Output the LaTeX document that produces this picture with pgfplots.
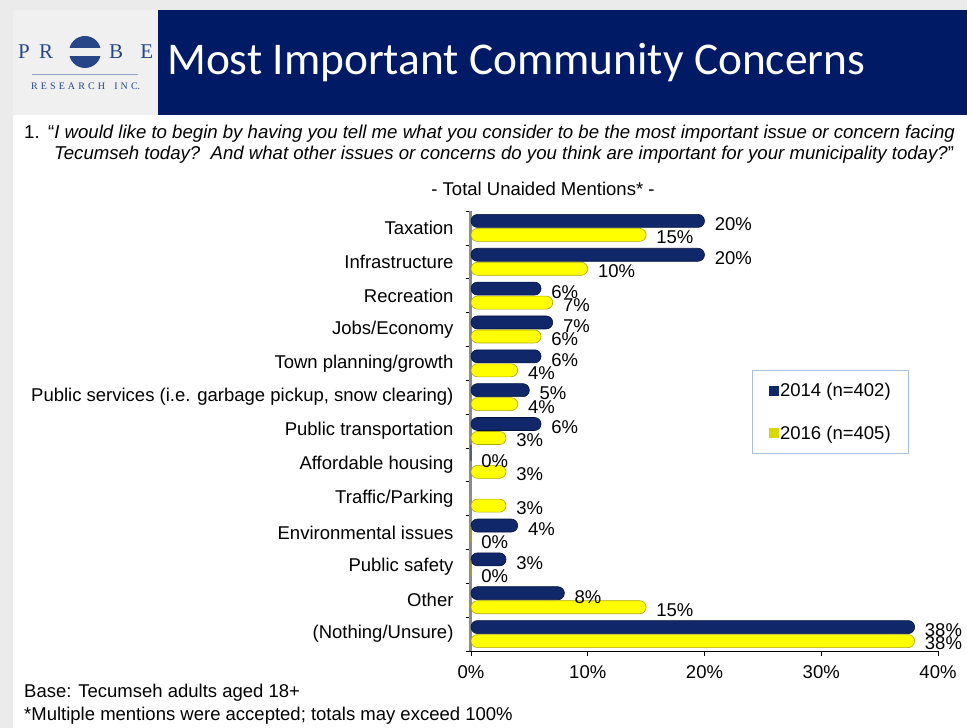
\documentclass[border=0pt]{standalone}
\usepackage{fontspec}
\setmainfont{Liberation Sans}
\newfontfamily\titlefont{Carlito}
\newfontfamily\logofont{Liberation Serif}
\usepackage{pgfplots}
\pgfplotsset{compat=1.18}
\definecolor{navy}{RGB}{16,40,105}
\definecolor{navyD}{RGB}{5,18,60}
\definecolor{yel}{RGB}{255,255,0}
\definecolor{yelD}{RGB}{175,170,0}
\definecolor{banner}{RGB}{0,26,102}
\definecolor{logoblue}{RGB}{40,70,135}
\definecolor{legbox}{RGB}{166,191,218}
\newcommand\F{\fontsize{18.5}{22}\selectfont}
\newcommand\Q{\fontsize{18.6}{22}\selectfont}

\begin{document}
\begin{tikzpicture}
\path[use as bounding box] (0,0) rectangle (967pt,728pt);
\fill[black!8] (0,0) rectangle (967pt,728pt);
\fill[white] (13pt,0) rectangle (967pt,718pt);
\fill[black!6] (13pt,613pt) rectangle (158pt,718pt);
\fill[banner] (158pt,613pt) rectangle (967pt,718pt);
% logo
\node[anchor=west, inner sep=0, text=logoblue] at (18pt,676pt) {\logofont\fontsize{21}{22}\selectfont\makebox[35pt][s]{P R}};
\node[anchor=west, inner sep=0, text=logoblue] at (109pt,676pt) {\logofont\fontsize{21}{22}\selectfont\makebox[44pt][s]{B E}};
\fill[logoblue] (85pt,676pt) circle (16pt);
\fill[black!6] (69pt,672pt) rectangle (101pt,680pt);
\draw[logoblue!50, line width=0.8pt] (32pt,654pt) -- (138pt,654pt);
\node[anchor=west, inner sep=0, text=logoblue] at (31pt,642pt) {\logofont\fontsize{10}{11}\selectfont\makebox[109pt][s]{R E S E A R C H \ \ I N C.}};
% title
\node[anchor=west, inner sep=0, text=white] at (167pt,665pt) {\titlefont\fontsize{45.4}{52}\selectfont Most Important Community Concerns};
% question
\node[anchor=base west, inner sep=0] at (24pt,589pt) {\Q 1.};
\node[anchor=base west, inner sep=0] at (48pt,589pt) {\Q “\textit{I would like to begin by having you tell me what you consider to be the most important issue or concern facing}};
\node[anchor=base west, inner sep=0] at (54pt,568pt) {\Q \textit{Tecumseh today?\ \ And what other issues or concerns do you think are important for your municipality today?}”};
\node[anchor=base, inner sep=0] at (543pt,532pt) {\F - Total Unaided Mentions* -};
% base notes
\node[anchor=base west, inner sep=0] at (24pt,30pt) {\F Base: Tecumseh adults aged 18+};
\node[anchor=base west, inner sep=0] at (24pt,7pt) {\F *Multiple mentions were accepted; totals may exceed 100\%};

\begin{axis}[
  at={(471pt,77pt)}, anchor=south west,
  scale only axis, width=467pt, height=440pt,
  xmin=0, xmax=40, ymin=-0.5, ymax=12.5,
  xbar, bar width=13pt,
  axis x line*=bottom, axis y line*=left,
  x axis line style={black, line width=0.6pt},
  y axis line style={black!45, line width=3pt},
  tick align=outside,
  major tick length=5pt, minor tick length=5pt,
  xtick={0,10,20,30,40},
  xticklabels={0\%,10\%,20\%,30\%,40\%},
  xtick style={black, line width=0.6pt},
  ytick={0,...,12},
  yticklabels={(Nothing/Unsure),Other,Public safety,Environmental issues,Traffic/Parking,Affordable housing,Public transportation,{Public services (i.e. garbage pickup, snow clearing)},Town planning/growth,Jobs/Economy,Recreation,Infrastructure,Taxation},
  major y tick style={draw=none},
  minor ytick={-0.5,0.5,...,12.5},
  minor y tick style={draw=black, line width=0.6pt},
  ticklabel style={font=\F},
  yticklabel style={xshift=-9pt},
  xticklabel style={yshift=-6pt},
  /pgf/number format/assume math mode=true,
  point meta=x,
  nodes near coords={\pgfmathprintnumber{\pgfplotspointmeta}\%},
  every node near coord/.append style={font=\F, anchor=west, inner sep=0pt},
  legend style={at={(rel axis cs:0.602,0.6386)}, anchor=north west, draw=legbox, line width=0.8pt, font=\F, row sep=24pt, inner xsep=16pt, inner ysep=10.5pt, legend cell align=left},
  clip=false,
]
\addplot[fill=navy, draw=navyD, line width=0.6pt, rounded corners=6.5pt, bar shift=7pt,
  every node near coord/.append style={xshift=10pt, yshift=-3.5pt},
  legend image code/.code={\fill[navy, sharp corners] (0pt,-4.5pt) rectangle (9pt,4.5pt);}]
  coordinates {(38,0) (8,1) (3,2) (4,3) (0,5) (6,6) (5,7) (6,8) (7,9) (6,10) (20,11) (20,12)};
\addplot[fill=yel, draw=yelD, line width=0.6pt, rounded corners=6.5pt, bar shift=-7pt,
  every node near coord/.append style={xshift=10pt, yshift=-2.5pt},
  legend image code/.code={\fill[yel!85!black, sharp corners] (0pt,-4.5pt) rectangle (9pt,4.5pt);}]
  coordinates {(38,0) (15,1) (0,2) (0,3) (3,4) (3,5) (3,6) (4,7) (4,8) (6,9) (7,10) (10,11) (15,12)};
\legend{2014 (n=402),2016 (n=405)}
\end{axis}
\end{tikzpicture}
\end{document}
